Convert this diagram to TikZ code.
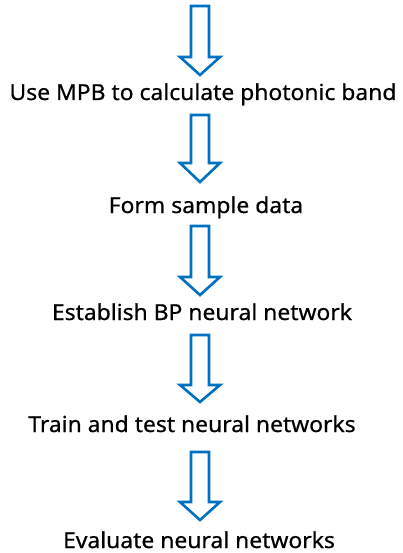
\documentclass[tikz,border=0pt]{standalone}
\usepackage{fontspec}
\setmainfont{Noto Sans}[FakeBold=0.6, FakeStretch=1.04]
\definecolor{arrowblue}{HTML}{0070C0}
\tikzset{
  steptext/.style={anchor=base, inner sep=0pt, font=\fontsize{22}{26}\selectfont, text=black},
  blockarrow/.style={draw=arrowblue, line width=2.6pt, fill=white, line join=miter},
}
\newcommand{\blockarr}[4]{% x center, top, head start, tip
  \draw[blockarrow] (#1-9,#2) -- (#1+9,#2) -- (#1+9,#3) -- (#1+20,#3) -- (#1,#4) -- (#1-20,#3) -- (#1-9,#3) -- cycle;}
\begin{document}
\begin{tikzpicture}[x=1pt,y=-1pt]
\useasboundingbox (0,0) rectangle (402,553);
\node[steptext] (s1) at (203,100) {Use MPB to calculate photonic band};
\node[steptext] (s2) at (206,213) {Form sample data};
\node[steptext] (s3) at (202,320) {Establish BP neural network};
\node[steptext] (s4) at (192,432) {Train and test neural networks};
\node[steptext] (s5) at (199,548) {Evaluate neural networks};
\blockarr{200}{6}{57}{75}
\blockarr{200}{115}{163}{182}
\blockarr{200}{226}{277}{295}
\blockarr{200}{335}{385}{402}
\blockarr{200}{452}{502}{520}
\end{tikzpicture}
\end{document}
